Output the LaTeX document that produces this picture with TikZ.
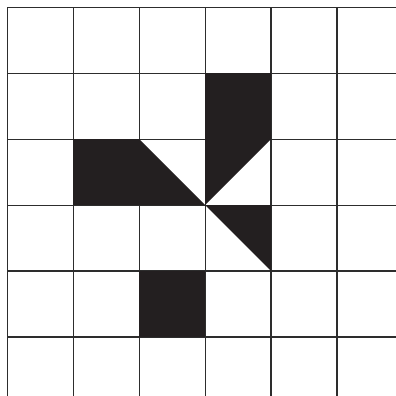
\documentclass[tikz,border=0pt]{standalone}
\begin{document}
\begin{tikzpicture}[x=1pt,y=-1pt,
  gridline/.style={draw={rgb,255:red,45;green,45;blue,45},line width=1.2pt},
  blk/.style={fill={rgb,255:red,35;green,31;blue,32}}]
\useasboundingbox (0,0) rectangle (396,396);
\fill[white] (0,0) rectangle (396,396);
% grid
\foreach \v in {7.5,73.3,139.2,205.1,271,336.9}{
  \draw[gridline] (\v,7.5) -- (\v,396);
  \draw[gridline] (7.5,\v) -- (396,\v);
}
% filled shapes
\fill[blk] (205.1,73.3) rectangle (271,139.2);
\fill[blk] (205.1,139.2) -- (271,139.2) -- (205.1,205.1) -- cycle;
\fill[blk] (73.3,139.2) rectangle (139.2,205.1);
\fill[blk] (139.2,139.2) -- (205.1,205.1) -- (139.2,205.1) -- cycle;
\fill[blk] (205.1,205.1) -- (271,205.1) -- (271,271) -- cycle;
\fill[blk] (139.2,271) rectangle (205.1,336.9);
\end{tikzpicture}
\end{document}
